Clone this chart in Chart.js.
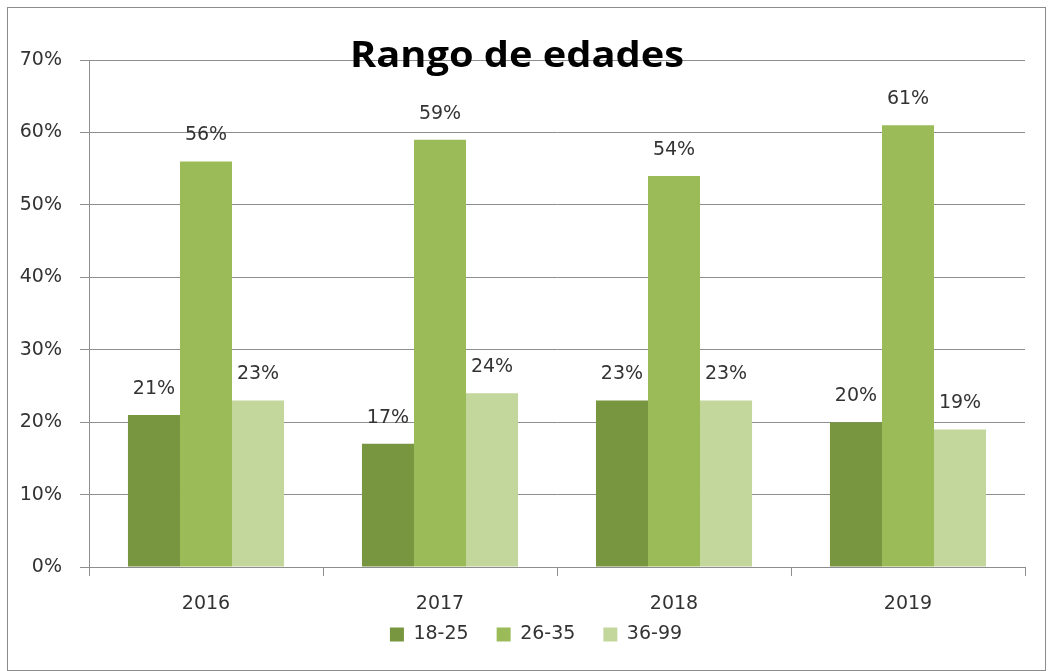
<!DOCTYPE html>
<html>
<head>
<meta charset="utf-8">
<script src="https://cdn.jsdelivr.net/npm/chart.js@4/dist/chart.umd.min.js"></script>
<style>
    html, body { margin: 0; padding: 0; background: #fff; width: 1050px; height: 671px; overflow: hidden; }
    #frame { position: absolute; left: 7px; top: 7px; width: 1037px; height: 662px; border: 1px solid #8c8c8c; }
    #chart { position: absolute; left: 0; top: 0; }
</style>
</head>
<body>
<div id="frame"></div>
<canvas id="chart" width="1050" height="671"></canvas>
<script>
    // --- データ ---
    const YEARS = ["2016", "2017", "2018", "2019"];
    const SERIES_NAMES = ["18-25", "26-35", "36-99"];
    const VALUES_18_25 = [21, 17, 23, 20];
    const VALUES_26_35 = [56, 59, 54, 61];
    const VALUES_36_99 = [23, 24, 23, 19];
    const COLORS = ["#77963f", "#9bbb59", "#c3d69b"];
    const TITLE = "Rango de edades";

    const FONT = "'DejaVu Sans', sans-serif";
    const TEXT_COLOR = "#333333";
    const GRID_COLOR = "#8e8e8e";

    // バー上のラベル
    const barLabels = {
        id: 'barLabels',
        afterDatasetsDraw(chart) {
            const ctx = chart.ctx;
            ctx.save();
            ctx.font = "19px " + FONT;
            ctx.fillStyle = TEXT_COLOR;
            ctx.textAlign = 'center';
            ctx.textBaseline = 'middle';
            chart.data.datasets.forEach((ds, i) => {
                chart.getDatasetMeta(i).data.forEach((bar, j) => {
                    ctx.fillText(ds.data[j] + '%', bar.x, bar.y - 26);
                });
            });
            ctx.restore();
        }
    };

    // タイトル（プロットの上に重ねる）
    const overlayTitle = {
        id: 'overlayTitle',
        afterDraw(chart) {
            const ctx = chart.ctx;
            ctx.save();
            ctx.font = "bold 35px 'Open Sans', sans-serif";
            const w = ctx.measureText(TITLE).width;
            const sx = 334 / w;
            ctx.translate(517, 67);
            ctx.scale(sx, 1);
            ctx.fillStyle = "#000000";
            ctx.textAlign = 'center';
            ctx.textBaseline = 'alphabetic';
            ctx.fillText(TITLE, 0, 0);
            ctx.restore();
        }
    };

    // 凡例の位置を調整
    const legendNudge = {
        id: 'legendNudge',
        afterLayout(chart) {
            if (chart.legend) {
                chart.legend.top -= 17;
                chart.legend.left += 47;
            }
        }
    };

    const datasets = [VALUES_18_25, VALUES_26_35, VALUES_36_99].map((vals, i) => ({
        label: SERIES_NAMES[i],
        data: vals,
        backgroundColor: COLORS[i],
        borderWidth: 0,
        categoryPercentage: 0.667,
        barPercentage: 1.0
    }));

    new Chart(document.getElementById('chart').getContext('2d'), {
        type: 'bar',
        data: { labels: YEARS, datasets: datasets },
        plugins: [barLabels, overlayTitle, legendNudge],
        options: {
            responsive: false,
            animation: false,
            devicePixelRatio: 1,
            layout: { padding: { top: 60, right: 25, bottom: 0, left: 0 } },
            plugins: {
                title: { display: false },
                tooltip: { enabled: false },
                legend: {
                    display: true,
                    position: 'bottom',
                    labels: {
                        boxWidth: 14, boxHeight: 14, padding: 28,
                        color: TEXT_COLOR,
                        font: { family: FONT, size: 19 }
                    }
                }
            },
            scales: {
                x: {
                    grid: { offset: true, drawOnChartArea: false, drawTicks: true, tickLength: 9, color: GRID_COLOR },
                    border: { display: true, color: GRID_COLOR, width: 1 },
                    ticks: { color: TEXT_COLOR, font: { family: FONT, size: 19 }, padding: 17 },
                    afterFit: s => { s.height = 47; }
                },
                y: {
                    min: 0, max: 70,
                    grid: { color: GRID_COLOR, lineWidth: 1, tickLength: 9, drawTicks: true },
                    border: { display: true, color: GRID_COLOR, width: 1 },
                    ticks: {
                        stepSize: 10, color: TEXT_COLOR, padding: 18,
                        font: { family: FONT, size: 19 },
                        callback: v => v + '%'
                    },
                    afterFit: s => { s.width = 89; }
                }
            }
        }
    });
</script>
</body>
</html>
